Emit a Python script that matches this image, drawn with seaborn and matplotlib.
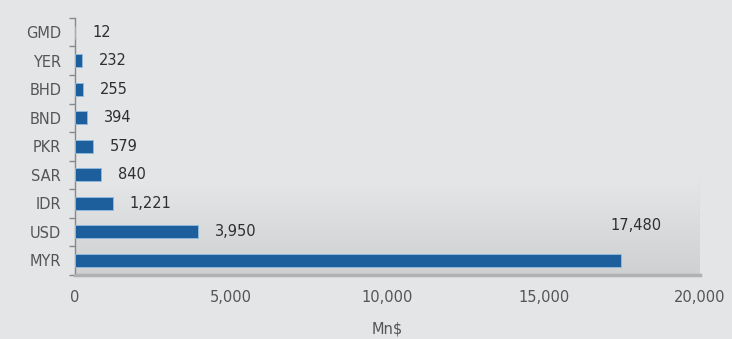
import numpy as np
import pandas as pd
import matplotlib
matplotlib.use("Agg")
import matplotlib.pyplot as plt
import seaborn as sns
from matplotlib.colors import LinearSegmentedColormap

currencies = ["GMD", "YER", "BHD", "BND", "PKR", "SAR", "IDR", "USD", "MYR"]
values = [12, 232, 255, 394, 579, 840, 1221, 3950, 17480]
x_ticks = [0, 5000, 10000, 15000, 20000]
x_label = "Mn$"

df = pd.DataFrame({"currency": currencies, "value": values})

sns.set_theme(style="white")
plt.rcParams["font.family"] = ["DejaVu Sans"]

bg = "#e4e5e7"
fs = 10.5
fig = plt.figure(figsize=(7.32, 3.39), dpi=100, facecolor=bg)
ax = fig.add_axes([0.1025, 0.19, 0.8535, 0.757])
ax.set_facecolor(bg)

sns.barplot(data=df, x="value", y="currency", order=currencies, color="#1d5f9c",
            width=0.45, saturation=1, ax=ax, zorder=3,
            edgecolor="#8fb8da", linewidth=0.7)

ax.set_xlim(0, 20000)

# floor gradient band (light at top, darker at bottom)
grad = np.linspace(0, 1, 100).reshape(-1, 1)
cmap = LinearSegmentedColormap.from_list("g", ["#cfd0d2", "#e5e6e8"])
ax.imshow(grad, extent=(0, 20000, 8.5, 5.15), origin="lower", aspect="auto",
          cmap=cmap, zorder=1)
ax.plot([20000, 20000], [5.15, 8.5], color="#d6d7d9", lw=1, zorder=2)
ax.set_ylim(len(currencies) - 0.5, -0.5)

for i, v in enumerate(values):
    if i == len(values) - 1:
        ax.annotate(f"{v:,}", (v, i), xytext=(11, 25), textcoords="offset points",
                    ha="center", va="center", fontsize=fs, color="#2f2f2f")
    else:
        ax.annotate(f"{v:,}", (v, i), xytext=(12, 0), textcoords="offset points",
                    ha="left", va="center", fontsize=fs, color="#2f2f2f")

ax.set_xticks(x_ticks)
ax.set_xticklabels([f"{t:,}" for t in x_ticks], fontsize=fs, color="#555555")
ax.set_yticks(range(len(currencies)))
ax.set_yticklabels(currencies, fontsize=fs, color="#555555")
ax.tick_params(axis="y", length=0, pad=10)
ax.tick_params(axis="x", length=3, color="#999999", pad=8)
ax.set_yticks(np.arange(-0.5, len(currencies), 1), minor=True)
ax.tick_params(axis="y", which="minor", length=4, color="#888888", width=1, left=True)

ax.set_xlabel(x_label, fontsize=fs, color="#555555", labelpad=12)
ax.set_ylabel("")

for s in ["top", "right"]:
    ax.spines[s].set_visible(False)
ax.spines["left"].set_color("#888888")
ax.spines["left"].set_linewidth(1)
ax.spines["bottom"].set_color("#b0b1b3")
ax.spines["bottom"].set_linewidth(2.5)

fig.savefig("out.png", dpi=100, facecolor=bg)
